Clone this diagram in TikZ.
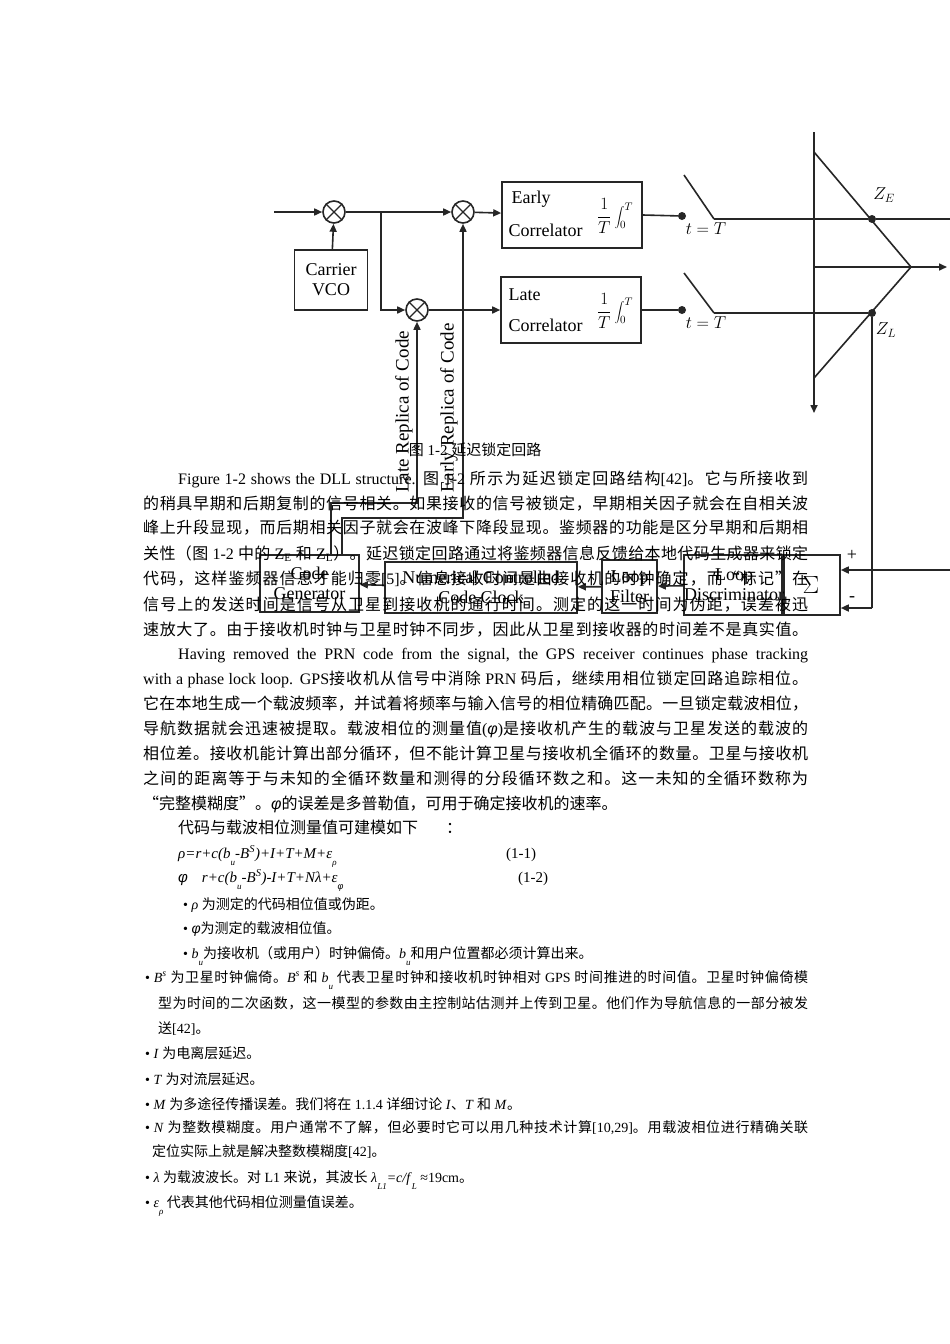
\documentclass[tikz,border=0pt]{standalone}
\usepackage{fontspec}
\setmainfont{Liberation Serif}
\setsansfont{Liberation Sans}
\newfontfamily\cjkf{Noto Sans CJK SC}
\usetikzlibrary{arrows.meta}
\chardef\CJKcls=7
\count255="4E00
\loop\XeTeXcharclass\count255=\CJKcls\advance\count255 1\ifnum\count255<"A000\repeat
\count255="3000
\loop\XeTeXcharclass\count255=\CJKcls\advance\count255 1\ifnum\count255<"3040\repeat
\count255="FF00
\loop\XeTeXcharclass\count255=\CJKcls\advance\count255 1\ifnum\count255<"FFF0\repeat
\XeTeXcharclass"201C=\CJKcls
\XeTeXcharclass"201D=\CJKcls
\XeTeXinterchartokenstate=1
\XeTeXinterchartoks 0 \CJKcls={\cjkf}
\XeTeXinterchartoks 4095 \CJKcls={\cjkf}
\XeTeXinterchartoks \CJKcls 0={\rmfamily}
\XeTeXinterchartoks \CJKcls 4095={\rmfamily}
\XeTeXinterchartoks \CJKcls \CJKcls={\hskip0pt plus 4pt minus 0.5pt}
\newcommand\lowsub[1]{\raisebox{-7pt}{\fontsize{9}{9}\selectfont\textit{#1}}}
\newcommand\phisym{{\sffamily\itshape φ}}
\tikzset{
  dl/.style={line width=1.6pt, draw=black!85},
  arr/.style={dl, -{Triangle[length=8pt,width=7pt]}},
  mixer/.style={circle, dl, minimum size=22pt, inner sep=0pt},
  blk/.style={dl, rectangle, inner sep=0pt, font=\fontsize{18}{20}\selectfont, align=center},
  dot/.style={circle, fill=black!85, inner sep=0pt, minimum size=8pt},
  pa/.style={anchor=base west, inner sep=0pt, font=\fontsize{16}{18}\selectfont},
  bu/.style={anchor=base west, inner sep=0pt, font=\fontsize{14}{16}\selectfont},
}
\begin{document}
\begin{tikzpicture}[x=1pt,y=-1pt]
\useasboundingbox[fill=white] (0,0) rectangle (950,1344);
% ---------- diagram ----------
\node[mixer] (m1) at (334,212) {};
\node[mixer] (m2) at (463,212) {};
\node[mixer] (m3) at (417,310) {};
\foreach \m in {m1,m2,m3}{\draw[dl,line width=1.2pt] (\m.45)--(\m.225) (\m.135)--(\m.315);}
\node[blk, minimum width=73pt, minimum height=60pt] (vco) at (331,280) {Carrier\\VCO};
\node[blk, minimum width=140pt, minimum height=66pt] (early) at (572,215) {};
\node[blk, minimum width=140pt, minimum height=66pt] (late) at (571,310) {};
\node[anchor=west, font=\fontsize{18}{20}\selectfont] (et1) at (508,199) {Early};
\node[anchor=west, font=\fontsize{18}{20}\selectfont] (et2) at (505,230) {Correlator};
\node[font=\fontsize{16}{18}\selectfont] (ei) at (615,216) {$\displaystyle\frac{1}{T}\int_0^T$};
\node[anchor=west, font=\fontsize{18}{20}\selectfont] (lt1) at (505,295) {Late};
\node[anchor=west, font=\fontsize{18}{20}\selectfont] (lt2) at (505,325) {Correlator};
\node[font=\fontsize{16}{18}\selectfont] (li) at (615,311) {$\displaystyle\frac{1}{T}\int_0^T$};
\coordinate (in) at (274,212);
\coordinate (br) at (381,212);
\draw[arr] (in) -- (m1);
\draw[arr] (vco) -- (m1);
\draw[arr] (m1) -- (m2);
\draw[arr] (br) |- (m3);
\draw[arr] (m2) -- (early);
\draw[arr] (m3) -- (late);
% switches
\node[dot] (dE) at (682,216) {};
\node[dot] (dL) at (682,310) {};
\draw[dl] (early.east) -- (dE);
\draw[dl] (late.east) -- (dL);
\coordinate (sE1) at (684,175); \coordinate (sE2) at (714,219);
\coordinate (sL1) at (684,273); \coordinate (sL2) at (714,313);
\draw[dl] (sE1) -- (sE2);
\draw[dl] (sL1) -- (sL2);
\node[font=\fontsize{17}{19}\selectfont] (tE) at (706,229) {$t=T$};
\node[font=\fontsize{17}{19}\selectfont] (tL) at (706,323) {$t=T$};
\node[dot] (zE) at (872,219) {};
\node[dot] (zL) at (872,313) {};
\coordinate (eEnd) at (950,219);
\draw[dl] (sE2) -- (zE) -- (eEnd);
\draw[dl] (sL2) -- (zL);
\node[font=\fontsize{17}{19}\selectfont] (lZE) at (884,195) {$Z_E$};
\node[font=\fontsize{17}{19}\selectfont] (lZL) at (886,330) {$Z_L$};
% triangle
\coordinate (vt) at (814,132); \coordinate (vb) at (814,413);
\draw[arr] (vt) -- (vb);
\coordinate (ta) at (814,152); \coordinate (tb) at (911,267); \coordinate (tc) at (814,378);
\draw[dl] (ta) -- (tb) -- (tc);
\coordinate (hs) at (814,267); \coordinate (he) at (947,267);
\draw[arr] (hs) -- (he);
% lower loop
\node[blk, minimum width=99pt, minimum height=57pt] (cg) at (309.5,583.5) {Code\\Generator};
\node[blk, minimum width=192pt, minimum height=51pt] (nco) at (481,587.5) {Numerical Controlled\\Code Clock};
\node[blk, minimum width=55pt, minimum height=53pt] (lf) at (629.5,586.5) {Loop\\Filter};
\node[blk, minimum width=96pt, minimum height=60pt] (ld) at (734,585) {Loop\\Discriminator};
\node[blk, minimum width=58pt, minimum height=60pt, font=\fontsize{26}{28}\selectfont] (sum) at (811,585) {$\Sigma$};
\draw[arr] (ld) -- (lf);
\draw[arr] (lf) -- (nco);
\draw[arr] (nco) -- (cg);
\coordinate (sin) at (950,570);
\draw[arr] (sin) -- (sum.east |- sin);
\coordinate (zLd) at (872,608);
\draw[dl] (zL) -- (zLd);
\draw[arr] (zLd) -- (sum.east |- zLd);
\node[font=\fontsize{18}{20}\selectfont] (plus) at (852,555) {+};
\node[font=\fontsize{18}{20}\selectfont] (minus) at (852,599) {-};
% replica lines
\coordinate (cgL) at (331,555); \coordinate (cgE) at (342,555);
\draw[arr] (cgL) -- (331,503) -| (m3);
\draw[arr] (cgE) -- (342,518) -| (m2);
\node[rotate=90, font=\fontsize{19}{21}\selectfont] (rl) at (404,412) {Late Replica of Code};
\node[rotate=90, font=\fontsize{19}{21}\selectfont] (re) at (449,408) {Early Replica of Code};
% ---------- text ----------
\node[font=\fontsize{15}{17}\selectfont] (cap) at (475,450) {图 1-2 延迟锁定回路};
\node[pa] (p1) at (178,484) {\makebox[630pt][s]{Figure 1-2 shows the DLL structure.  图 1-2 所示为延迟锁定回路结构[42]。它与所接收到}};
\node[pa] (p2) at (143,509) {\makebox[665pt][s]{的稍具早期和后期复制的信号相关。如果接收的信号被锁定，早期相关因子就会在自相关波}};
\node[pa] (p3) at (143,533) {\makebox[665pt][s]{峰上升段显现，而后期相关因子就会在波峰下降段显现。鉴频器的功能是区分早期和后期相}};
\node[pa] (p4) at (143,559) {\makebox[665pt][s]{关性（图 1-2 中的 Z\textsubscript{E} 和 Z\textsubscript{L}）。延迟锁定回路通过将鉴频器信息反馈给本地代码生成器来锁定}};
\node[pa] (p5) at (143,584) {\makebox[665pt][s]{代码，这样鉴频器信息才能归零[5]。信息接收时间是由接收机的时钟确定，而“标记”在}};
\node[pa] (p6) at (143,610) {\makebox[665pt][s]{信号上的发送时间是信号从卫星到接收机的通行时间。测定的这一时间为伪距，误差被迅}};
\node[pa] (p7) at (143,635) {\makebox[665pt][s]{速放大了。由于接收机时钟与卫星时钟不同步，因此从卫星到接收器的时间差不是真实值。}};
\node[pa] (q1) at (178,659) {\makebox[630pt][s]{Having removed the PRN code  from the signal, the GPS receiver continues phase tracking}};
\node[pa] (q2) at (143,684) {\makebox[665pt][s]{with a phase lock loop. GPS接收机从信号中消除 PRN 码后，继续用相位锁定回路追踪相位。}};
\node[pa] (q3) at (143,709) {\makebox[665pt][s]{它在本地生成一个载波频率，并试着将频率与输入信号的相位精确匹配。一旦锁定载波相位，}};
\node[pa] (q4) at (143,734) {\makebox[665pt][s]{导航数据就会迅速被提取。载波相位的测量值(\phisym)是接收机产生的载波与卫星发送的载波的}};
\node[pa] (q5) at (143,759) {\makebox[665pt][s]{相位差。接收机能计算出部分循环，但不能计算卫星与接收机全循环的数量。卫星与接收机}};
\node[pa] (q6) at (143,784) {\makebox[665pt][s]{之间的距离等于与未知的全循环数量和测得的分段循环数之和。这一未知的全循环数称为}};
\node[pa] (q7) at (143,809) {“完整模糊度”。\phisym 的误差是多普勒值，可用于确定接收机的速率。};
\node[pa] (q8) at (178,833) {代码与载波相位测量值可建模如下\hspace{28pt}：};
\node[pa, font=\fontsize{15}{17}\selectfont] (f1) at (178,858) {\textit{ρ=r+c(b}\lowsub{u}\textit{-B}\textsuperscript{\textit{S}}\textit{)+I+T+M+ε}\lowsub{ρ}};
\node[pa, font=\fontsize{15}{17}\selectfont] (f1n) at (506,858) {(1-1)};
\node[pa, font=\fontsize{15}{17}\selectfont] (f2) at (178,882) {\phisym\hspace{14pt}\textit{r+c(b}\lowsub{u}\textit{-B}\textsuperscript{\textit{S}}\textit{)-I+T+Nλ+ε}\lowsub{\phisym}};
\node[pa, font=\fontsize{15}{17}\selectfont] (f2n) at (518,882) {(1-2)};
\node[bu] (b1) at (183,909) {• \textit{ρ} 为测定的代码相位值或伪距。};
\node[bu] (b2) at (183,933) {• \phisym 为测定的载波相位值。};
\node[bu] (b3) at (183,958) {• \textit{b}\lowsub{u}为接收机（或用户）时钟偏倚。\textit{b}\lowsub{u}和用户位置都必须计算出来。};
\node[bu] (b4) at (145,982) {\makebox[663pt][s]{• \textit{B}\textsuperscript{\textit{s}} 为卫星时钟偏倚。\textit{B}\textsuperscript{\textit{s}} 和 \textit{b}\lowsub{u} 代表卫星时钟和接收机时钟相对 GPS 时间推进的时间值。卫星时钟偏倚模}};
\node[bu] (b5) at (158,1008) {\makebox[650pt][s]{型为时间的二次函数，这一模型的参数由主控制站估测并上传到卫星。他们作为导航信息的一部分被发}};
\node[bu] (b6) at (158,1033) {送[42]。};
\node[bu] (b7) at (145,1058) {• \textit{I} 为电离层延迟。};
\node[bu] (b8) at (145,1084) {• \textit{T} 为对流层延迟。};
\node[bu] (b9) at (145,1109) {• \textit{M} 为多途径传播误差。我们将在 1.1.4 详细讨论 \textit{I}、\textit{T} 和 \textit{M}。};
\node[bu] (b10) at (145,1132) {\makebox[663pt][s]{• \textit{N} 为整数模糊度。用户通常不了解，但必要时它可以用几种技术计算[10,29]。用载波相位进行精确关联}};
\node[bu] (b11) at (152,1156) {定位实际上就是解决整数模糊度[42]。};
\node[bu] (b12) at (145,1182) {• \textit{λ} 为载波波长。对 L1 来说，其波长 \textit{λ}\lowsub{L1}\textit{=c/f}\lowsub{L} ≈19cm。};
\node[bu] (b13) at (145,1207) {• \textit{ε}\lowsub{ρ} 代表其他代码相位测量值误差。};
\end{tikzpicture}
\end{document}
